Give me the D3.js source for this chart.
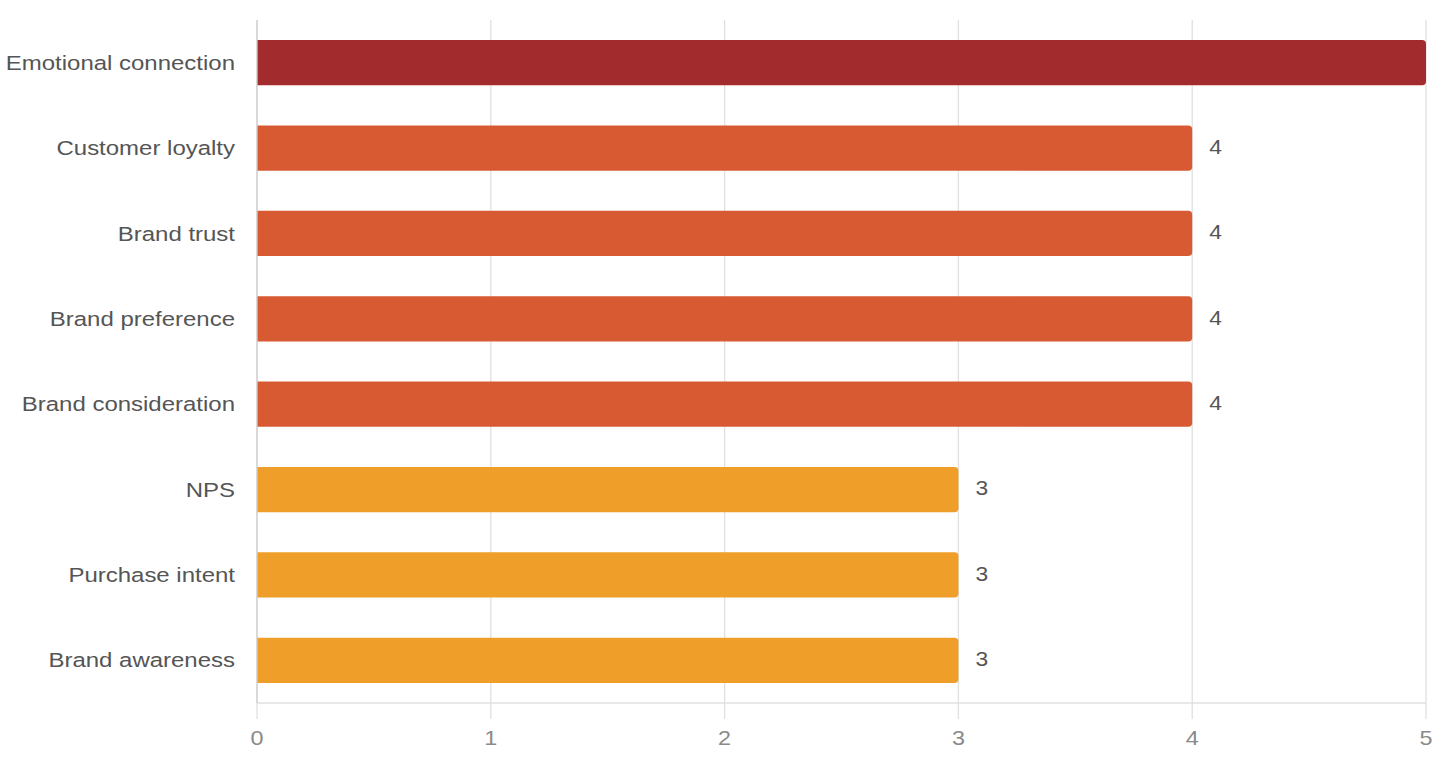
<!DOCTYPE html>
<html>
<head>
<meta charset="utf-8">
<script src="https://cdn.jsdelivr.net/npm/d3@7"></script>
<style>
  body { margin: 0; background: #fff; }
  text { font-family: "Liberation Sans", Arial, sans-serif; }
</style>
</head>
<body>
<div id="chart"></div>
<script>
// chart data, top to bottom
const categories = ["Emotional connection", "Customer loyalty", "Brand trust", "Brand preference",
  "Brand consideration", "NPS", "Purchase intent", "Brand awareness"];
const scores = [5, 4, 4, 4, 4, 3, 3, 3];
const xTicks = [0, 1, 2, 3, 4, 5];

const width = 1440;
const height = 760;
const margin = { top: 20, right: 14, bottom: 57, left: 257 };
const stretch = 1.17; // text in the reference is a bit wide

// colour by score level
const color = d3.scaleOrdinal()
  .domain([5, 4, 3])
  .range(["#a22b2e", "#d85a32", "#ee9e29"]);

const svg = d3.select("#chart")
  .append("svg")
  .attr("width", width)
  .attr("height", height);

const x = d3.scaleLinear()
  .domain([0, 5])
  .range([margin.left, width - margin.right]);

const y = d3.scaleBand()
  .domain(categories)
  .range([margin.top, height - margin.bottom])
  .paddingInner(0.47)
  .paddingOuter(0.235);

// vertical grid lines + ticks under the axis
svg.append("g")
  .selectAll("line")
  .data(xTicks)
  .join("line")
  .attr("x1", d => x(d))
  .attr("x2", d => x(d))
  .attr("y1", margin.top)
  .attr("y2", height - margin.bottom + 16)
  .attr("stroke", "#e0e0e0")
  .attr("stroke-width", 1.3);

// bottom axis line
svg.append("line")
  .attr("x1", x(0))
  .attr("x2", x(5))
  .attr("y1", height - margin.bottom)
  .attr("y2", height - margin.bottom)
  .attr("stroke", "#e0e0e0")
  .attr("stroke-width", 1.3);

// x tick labels
svg.append("g")
  .selectAll("text")
  .data(xTicks)
  .join("text")
  .attr("transform", d => `translate(${x(d)},${height - margin.bottom + 35}) scale(${stretch},1)`)
  .attr("dy", "0.35em")
  .attr("text-anchor", "middle")
  .style("font-size", "20px")
  .style("fill", "#8a8a8a")
  .text(d => d);

// bars: square left end, rounded right end
const r = 4;
svg.append("g")
  .selectAll("path")
  .data(categories)
  .join("path")
  .attr("d", (c, i) => {
    const x0 = x(0), x1 = x(scores[i]);
    const y0 = y(c), h = y.bandwidth();
    return `M${x0},${y0}H${x1 - r}Q${x1},${y0} ${x1},${y0 + r}V${y0 + h - r}Q${x1},${y0 + h} ${x1 - r},${y0 + h}H${x0}Z`;
  })
  .attr("fill", (c, i) => color(scores[i]));

// category labels
svg.append("g")
  .selectAll("text")
  .data(categories)
  .join("text")
  .attr("transform", c => `translate(${margin.left - 22},${y(c) + y.bandwidth() / 2}) scale(${stretch},1)`)
  .attr("dy", "0.35em")
  .attr("text-anchor", "end")
  .style("font-size", "20.5px")
  .style("fill", "#555")
  .text(c => c);

// value labels (only where they fit inside the plot)
svg.append("g")
  .selectAll("text")
  .data(categories.filter((c, i) => x(scores[i]) + 40 < width - margin.right))
  .join("text")
  .attr("transform", c => `translate(${x(scores[categories.indexOf(c)]) + 17},${y(c) + y.bandwidth() / 2 - 1}) scale(${stretch},1)`)
  .attr("dy", "0.35em")
  .style("font-size", "19.5px")
  .style("fill", "#555")
  .text(c => scores[categories.indexOf(c)]);

// left axis line
svg.append("line")
  .attr("x1", x(0))
  .attr("x2", x(0))
  .attr("y1", margin.top)
  .attr("y2", height - margin.bottom)
  .attr("stroke", "#cfcfcf")
  .attr("stroke-width", 1.3);
</script>
</body>
</html>
